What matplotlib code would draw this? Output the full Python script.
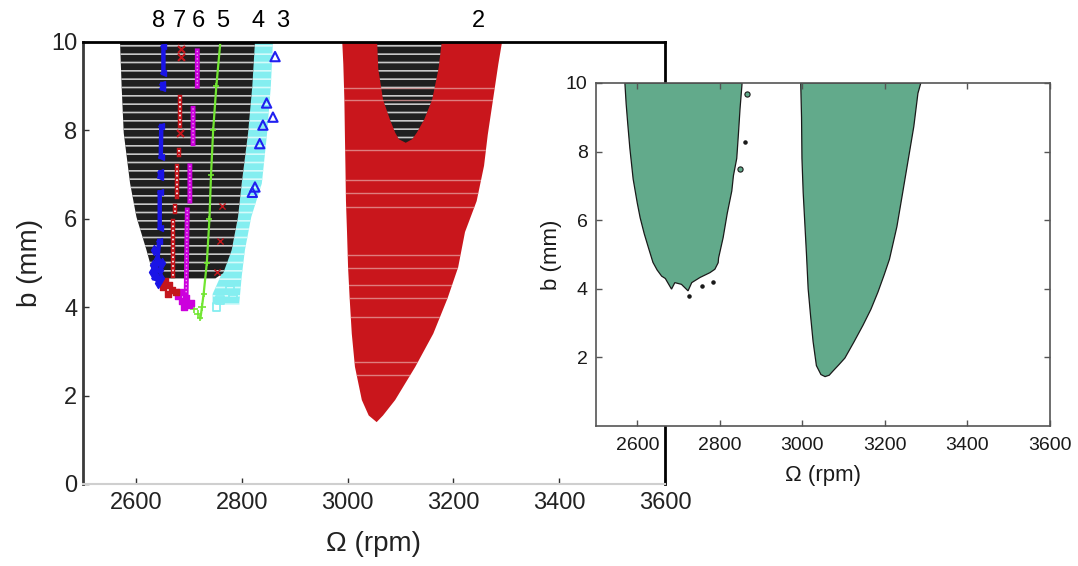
import numpy as np
import matplotlib
matplotlib.use("Agg")
import matplotlib.pyplot as plt

plt.rcParams['font.family'] = ['Liberation Sans', 'DejaVu Sans']
plt.rcParams['hatch.linewidth'] = 1.2

# ---- left panel: stability regions (rpm vs b) ----
# region 2 (red)
red_b     = [10.0, 9.5, 8.7, 7.9, 7.2, 6.4, 5.7, 4.9, 4.2, 3.4, 2.65, 1.9, 1.55, 1.4]
red_left  = [2990, 2992, 2994, 2995, 2996, 2997, 2999, 3001, 3004, 3008, 3014, 3027, 3040, 3055]
red_right = [3292, 3285, 3275, 3265, 3258, 3244, 3222, 3209, 3189, 3162, 3128, 3090, 3067, 3055]
# faint gaps between scan rows in region 2
red_streak_b = [8.95, 8.69, 7.56, 6.88, 6.58, 6.27, 5.18, 4.88, 4.5, 4.2, 3.78, 2.76, 2.47]

# black pocket inside region 2
blk2_b     = [10.0, 9.4, 8.7, 8.25, 7.95, 7.8, 7.72]
blk2_left  = [3056, 3058, 3067, 3080, 3090, 3097, 3110]
blk2_right = [3178, 3172, 3160, 3145, 3131, 3122, 3110]

# region 4 (cyan)
cyan_b     = [10.0, 9.0, 7.94, 6.8, 6.04, 5.29, 4.7, 4.3, 4.05]
cyan_left  = [2820, 2818, 2812, 2800, 2793, 2781, 2760, 2745, 2745]
cyan_right = [2859, 2855, 2848, 2838, 2818, 2806, 2800, 2797, 2795]

# black lobe (left)
blk1_b     = [10.0, 9.0, 7.94, 6.8, 6.04, 5.29, 4.77, 4.65]
blk1_left  = [2570, 2573, 2577, 2589, 2601, 2620, 2632, 2645]
blk1_right = [2825, 2820, 2812, 2800, 2793, 2781, 2765, 2750]

# curves 5..8
c5_om = [2760, 2752, 2746, 2742, 2739, 2734, 2728, 2722]
c5_b  = [10.05, 9.0, 8.0, 7.0, 6.0, 5.0, 4.3, 3.75]
c6_om = [2716, 2716, np.nan, 2708, 2708, np.nan, 2702, 2702, np.nan, 2697, 2695]
c6_b  = [9.8, 9.0, np.nan, 8.5, 7.7, np.nan, 7.2, 6.4, np.nan, 6.2, 4.3]
c7_om = [2683, 2683, np.nan, 2682, 2682, np.nan, 2678, 2678, np.nan, 2674, 2674, np.nan, 2670, 2670]
c7_b  = [8.75, 8.1, np.nan, 7.55, 7.45, np.nan, 7.2, 6.5, np.nan, 6.3, 6.15, np.nan, 5.95, 4.7]
c7x_om = [2685, 2685, 2685, 2683]
c7x_b  = [10.05, 9.85, 9.65, 7.95]
c8_om = [2652, 2652, np.nan, 2650, 2650, np.nan, 2648, 2647, np.nan, 2646, 2645,
         np.nan, 2645, 2645, np.nan, 2644, 2640, 2635]
c8_b  = [9.9, 9.3, np.nan, 9.05, 8.95, np.nan, 8.1, 7.4, np.nan, 7.05, 6.95,
         np.nan, 6.6, 5.8, np.nan, 5.5, 5.0, 4.65]

blob8_om = [2635, 2640, 2632, 2645, 2638, 2648, 2630, 2650, 2642]
blob8_b  = [5.3, 5.1, 4.95, 4.85, 4.7, 4.65, 4.8, 5.0, 4.55]
blob7_om = [2655, 2662, 2668, 2660, 2675, 2652]
blob7_b  = [4.6, 4.5, 4.4, 4.3, 4.35, 4.45]
blob6_om = [2680, 2688, 2695, 2700, 2690, 2705, 2684]
blob6_b  = [4.25, 4.15, 4.2, 4.05, 4.0, 4.1, 4.35]
blob5_om = [2700, 2710, 2718, 2725]
blob5_b  = [4.05, 3.95, 3.85, 4.0]
redx_om = [2762, 2759, 2753]
redx_b  = [6.3, 5.5, 4.8]
cyansq_om = [2759, 2784, 2778, 2752]
cyansq_b  = [4.16, 4.2, 4.4, 4.0]
tri3_om = [2863, 2847, 2859, 2840, 2834, 2825, 2820]
tri3_b  = [9.67, 8.62, 8.3, 8.12, 7.7, 6.72, 6.6]

region_labels = ['8', '7', '6', '5', '4', '3', '2']
label_om = [2642, 2682, 2719, 2764, 2831, 2878, 3247]

# ---- inset: computed boundaries ----
inA_om = [2570, 2573, 2577, 2582, 2590, 2600, 2607, 2617, 2627, 2638, 2648, 2659,
          2668, 2683, 2691, 2707, 2723, 2732, 2752, 2776, 2788, 2796, 2797,
          2808, 2818, 2829, 2833, 2841, 2845, 2849, 2852, 2854]
inA_b  = [10.0, 9.4, 8.8, 8.1, 7.2, 6.5, 6.07, 5.6, 5.2, 4.77, 4.55, 4.37,
          4.3, 3.99, 4.18, 4.13, 3.94, 4.18, 4.33, 4.47, 4.57, 4.76, 4.9,
          5.49, 6.2, 6.85, 7.3, 7.8, 8.5, 9.25, 9.7, 10.0]
inB_om = [2996, 2998, 2999, 3002, 3006, 3010, 3014, 3020, 3026, 3034, 3045, 3055,
          3065, 3074, 3088, 3103, 3125, 3147, 3166, 3183, 3198, 3211, 3229, 3243,
          3257, 3270, 3280, 3287]
inB_b  = [10.0, 9.0, 7.8, 6.8, 5.9, 5.0, 4.0, 3.2, 2.46, 1.76, 1.5, 1.44,
          1.48, 1.6, 1.78, 1.98, 2.45, 2.94, 3.4, 3.9, 4.4, 4.86, 5.81, 6.8,
          7.8, 8.73, 9.7, 10.0]
dots_om = [2725, 2756, 2784, 2861]
dots_b  = [3.8, 4.08, 4.2, 8.27]
specks_om = [2865, 2848]
specks_b  = [9.67, 7.5]

xticks = [2600, 2800, 3000, 3200, 3400, 3600]

fig = plt.figure(figsize=(10.78, 5.66), dpi=100)

# left panel
ax = fig.add_axes([83/1078, 82/566, 582/1078, 442/566])
red_poly = ax.fill_betweenx(red_b, red_left, red_right, facecolor='#c9161c',
                            edgecolor='none', lw=0)
streaks = ax.hlines(red_streak_b, min(red_left), max(red_right),
                    color='#e7a0a0', lw=1, alpha=0.75)
streaks.set_clip_path(red_poly.get_paths()[0], red_poly.get_transform())
ax.fill_betweenx(blk2_b, blk2_left, blk2_right, facecolor='#1f1f1f',
                 edgecolor='#c8c8c8', lw=0, hatch='--')
ax.fill_betweenx(cyan_b, cyan_left, cyan_right, facecolor='#84eef0',
                 edgecolor='#d4fbfb', lw=0, hatch='--')
ax.fill_betweenx(blk1_b, blk1_left, blk1_right, facecolor='#1f1f1f',
                 edgecolor='#c8c8c8', lw=0, hatch='--')

ax.plot(c5_om, c5_b, color='#72e632', lw=1.6, marker='+', ms=5, mew=1.2)
ax.scatter(blob5_om, blob5_b, marker='+', s=30, color='#72e632', lw=1.2)
ax.plot(c6_om, c6_b, color='#cc00dd', lw=3.5)
ax.plot(c6_om, c6_b, color='#f19af5', lw=1, ls=':')
ax.scatter(blob6_om, blob6_b, marker='s', s=18, color='#cc00dd')
ax.plot(c7_om, c7_b, color='#c4161c', lw=3.2)
ax.plot(c7_om, c7_b, color='white', lw=1.2, ls=':')
ax.scatter(c7x_om, c7x_b, marker='x', s=25, color='#c4161c', lw=1.5)
ax.scatter(blob7_om, blob7_b, marker='s', s=22, color='#c4161c')
ax.plot(c8_om, c8_b, color='#1a14e6', lw=3.2, marker='<', ms=4)
ax.scatter(blob8_om, blob8_b, marker='d', s=26, color='#1a14e6')
ax.scatter(redx_om, redx_b, marker='x', s=20, color='#c4161c', lw=1)
ax.scatter(cyansq_om, cyansq_b, marker='s', s=30, facecolor='none',
           edgecolor='#84eef0', lw=1.3)
ax.scatter(tri3_om, tri3_b, marker='^', s=45, facecolor='none',
           edgecolor='#2020f0', lw=1.5)

for lab, om in zip(region_labels, label_om):
    ax.text(om, 10.47, lab, ha='center', va='center', fontsize=17, clip_on=False)

ax.set_xlim(2500, 3600)
ax.set_ylim(0, 10)
ax.set_xticks(xticks)
ax.set_yticks([0, 2, 4, 6, 8, 10])
ax.tick_params(direction='in', length=4, width=1, colors='#303030',
               labelsize=17, labelcolor='#222222')
ax.tick_params(axis='x', pad=6)
ax.tick_params(axis='y', pad=4)
for side in ['top', 'right']:
    ax.spines[side].set_color('black')
    ax.spines[side].set_linewidth(2)
ax.spines['left'].set_color('#3a3a3a')
ax.spines['left'].set_linewidth(2)
ax.spines['bottom'].set_color('#cfcfcf')
ax.spines['bottom'].set_linewidth(1.5)
ax.set_xlabel('Ω (rpm)', fontsize=20, labelpad=12, color='#222222')
ax.set_ylabel('b (mm)', fontsize=20, labelpad=6, color='#222222')

# inset
ai = fig.add_axes([596/1078, 140/566, 454/1078, 343/566], facecolor='white')
ai.fill(inA_om, inA_b, facecolor='#62aa8b', edgecolor='#1a1a1a', lw=0.9)
ai.fill(inB_om, inB_b, facecolor='#62aa8b', edgecolor='#1a1a1a', lw=0.9)
ai.scatter(dots_om, dots_b, s=5, color='#1a1a1a')
ai.scatter(specks_om, specks_b, s=14, facecolor='#62aa8b', edgecolor='#1a1a1a', lw=0.8)
ai.set_xlim(2500, 3600)
ai.set_ylim(0, 10)
ai.set_xticks(xticks)
ai.set_yticks([2, 4, 6, 8, 10])
ai.tick_params(direction='in', length=4, width=1, colors='#555555',
               labelsize=14, labelcolor='#1a1a1a', top=True, right=True)
ai.tick_params(axis='x', pad=8)
ai.tick_params(axis='y', pad=6)
for s in ai.spines.values():
    s.set_color('#555555')
    s.set_linewidth(1.2)
ai.set_xlabel('Ω (rpm)', fontsize=16, labelpad=8, color='#1a1a1a')
ai.set_ylabel('b (mm)', fontsize=16, labelpad=3, color='#1a1a1a')

fig.savefig('out.png', dpi=100)
